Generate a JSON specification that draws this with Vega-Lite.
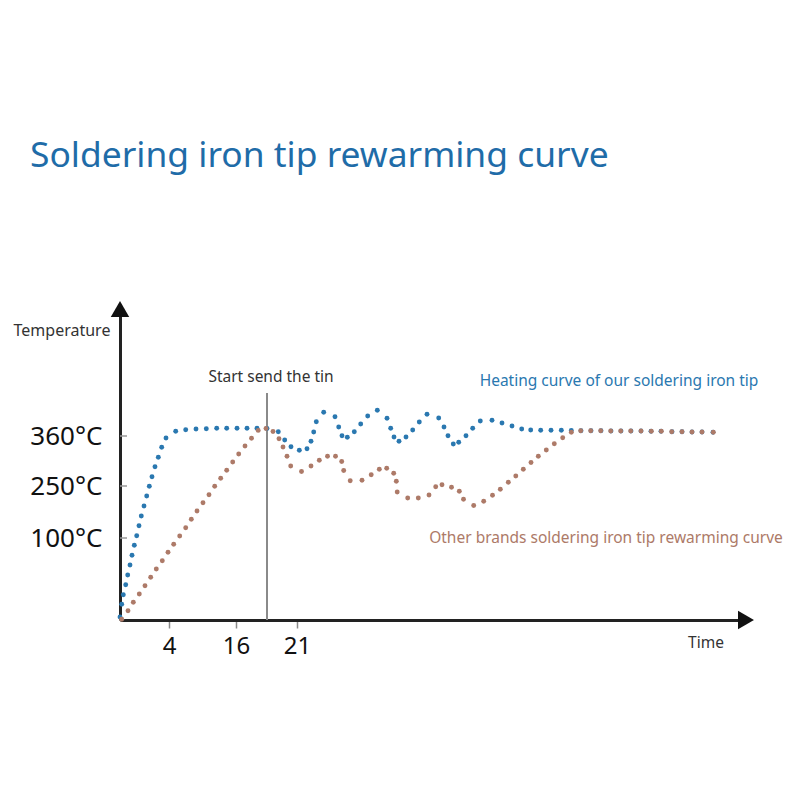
{
  "$schema": "https://vega.github.io/schema/vega-lite/v6.json",
  "width": 620,
  "height": 315,
  "autosize": {"type": "none"},
  "padding": {"left": 120, "top": 305, "right": 60, "bottom": 180},
  "background": "white",
  "config": {"view": {"stroke": null}, "font": "Noto Sans"},
  "title": {
    "text": "Soldering iron tip rewarming curve",
    "anchor": "start",
    "frame": "group",
    "font": "Noto Sans",
    "fontSize": 35.4,
    "fontWeight": "normal",
    "color": "#1f6ca8",
    "baseline": "alphabetic",
    "dx": -90,
    "offset": 99
  },
  "datasets": {
    "ours": [
      {"t": 0, "temp": 3}, {"t": 1.7, "temp": 15.7}, {"t": 3.3, "temp": 25.3}, {"t": 5.7, "temp": 35.3}, {"t": 7.7, "temp": 45}, {"t": 10, "temp": 55}, {"t": 12, "temp": 64.7}, {"t": 14.3, "temp": 74.7}, {"t": 16.7, "temp": 84.3}, {"t": 19, "temp": 94.3}, {"t": 21.3, "temp": 104}, {"t": 24, "temp": 114}, {"t": 26.7, "temp": 124}, {"t": 29.3, "temp": 133.7}, {"t": 32, "temp": 143.3}, {"t": 35, "temp": 153.3}, {"t": 38.3, "temp": 162.7}, {"t": 41.7, "temp": 172.7}, {"t": 46, "temp": 182}, {"t": 55.7, "temp": 188.7}, {"t": 65.7, "temp": 190.3}, {"t": 76, "temp": 191}, {"t": 86.3, "temp": 191.3}, {"t": 96.7, "temp": 191.7}, {"t": 106.7, "temp": 191.7}, {"t": 117, "temp": 191.7}, {"t": 127, "temp": 191.7}, {"t": 137, "temp": 191.7}, {"t": 147, "temp": 191.5}, {"t": 158.3, "temp": 188.3}, {"t": 164.7, "temp": 180}, {"t": 171, "temp": 173.3}, {"t": 179.3, "temp": 169.7}, {"t": 187, "temp": 171.3}, {"t": 191, "temp": 178.7}, {"t": 193.7, "temp": 188}, {"t": 196.3, "temp": 198.3}, {"t": 203.7, "temp": 207.7}, {"t": 215, "temp": 203.3}, {"t": 218.7, "temp": 193}, {"t": 222, "temp": 184.3}, {"t": 227.3, "temp": 182.7}, {"t": 234.3, "temp": 188.3}, {"t": 240.7, "temp": 196}, {"t": 247.7, "temp": 204}, {"t": 257.3, "temp": 209.7}, {"t": 267, "temp": 201.7}, {"t": 270.7, "temp": 191.7}, {"t": 274, "temp": 183}, {"t": 279, "temp": 178.7}, {"t": 286, "temp": 183}, {"t": 292.7, "temp": 190}, {"t": 299.3, "temp": 198}, {"t": 307, "temp": 205.7}, {"t": 318.7, "temp": 202}, {"t": 324, "temp": 193}, {"t": 328, "temp": 184.3}, {"t": 333.3, "temp": 176}, {"t": 338.7, "temp": 177.7}, {"t": 346, "temp": 184.3}, {"t": 352.7, "temp": 191.7}, {"t": 360.3, "temp": 199}, {"t": 372, "temp": 199.7}, {"t": 382, "temp": 197}, {"t": 392, "temp": 194}, {"t": 401.7, "temp": 191}, {"t": 410.7, "temp": 190}, {"t": 420.7, "temp": 189.7}, {"t": 431, "temp": 189.7}, {"t": 441.3, "temp": 189.7}, {"t": 451.3, "temp": 189.5}, {"t": 461, "temp": 189.3}, {"t": 471, "temp": 189.3}, {"t": 481, "temp": 189.2}, {"t": 491, "temp": 189}, {"t": 501, "temp": 189}, {"t": 511, "temp": 189}, {"t": 521, "temp": 189}, {"t": 531, "temp": 188.7}, {"t": 541, "temp": 188.7}, {"t": 552, "temp": 188.3}, {"t": 562, "temp": 188.3}, {"t": 572, "temp": 188}, {"t": 582, "temp": 188}, {"t": 593, "temp": 187.7}
    ],
    "others": [
      {"t": 1.7, "temp": 0.7}, {"t": 8, "temp": 9.3}, {"t": 13.3, "temp": 17.7}, {"t": 19.3, "temp": 26}, {"t": 25, "temp": 34.3}, {"t": 30.7, "temp": 42.7}, {"t": 36.3, "temp": 51}, {"t": 42.3, "temp": 59.3}, {"t": 48, "temp": 67.7}, {"t": 53.7, "temp": 75.7}, {"t": 59.7, "temp": 84}, {"t": 65.7, "temp": 92.3}, {"t": 71.3, "temp": 100.7}, {"t": 77, "temp": 109}, {"t": 83, "temp": 117.3}, {"t": 89, "temp": 125.3}, {"t": 94.7, "temp": 133.7}, {"t": 100.7, "temp": 141.7}, {"t": 106.7, "temp": 149.7}, {"t": 112.7, "temp": 158}, {"t": 118.7, "temp": 166}, {"t": 125, "temp": 174}, {"t": 131.5, "temp": 181.8}, {"t": 138.2, "temp": 189.6}, {"t": 146, "temp": 191.5}, {"t": 153, "temp": 188.5}, {"t": 159, "temp": 181.3}, {"t": 163, "temp": 173}, {"t": 167, "temp": 163.7}, {"t": 170.7, "temp": 154}, {"t": 181.5, "temp": 148.5}, {"t": 191, "temp": 154}, {"t": 199.3, "temp": 159.7}, {"t": 207.5, "temp": 163.8}, {"t": 215.5, "temp": 163.8}, {"t": 221.7, "temp": 158.5}, {"t": 223.7, "temp": 149.5}, {"t": 230.2, "temp": 139.2}, {"t": 242, "temp": 139.7}, {"t": 251.2, "temp": 145.3}, {"t": 259.3, "temp": 150.8}, {"t": 266.7, "temp": 151.7}, {"t": 273.7, "temp": 146.7}, {"t": 276.3, "temp": 138.7}, {"t": 277.2, "temp": 128}, {"t": 287.7, "temp": 122}, {"t": 298.3, "temp": 122}, {"t": 309, "temp": 125}, {"t": 315.7, "temp": 133.3}, {"t": 322, "temp": 135.2}, {"t": 331.5, "temp": 132.8}, {"t": 339.3, "temp": 128.7}, {"t": 343.5, "temp": 120.8}, {"t": 353.7, "temp": 114.5}, {"t": 363.7, "temp": 118.7}, {"t": 372.5, "temp": 124.7}, {"t": 380.3, "temp": 130.8}, {"t": 388.3, "temp": 137.7}, {"t": 395.8, "temp": 144}, {"t": 403.3, "temp": 150.7}, {"t": 411, "temp": 157.5}, {"t": 418.3, "temp": 163.7}, {"t": 426.3, "temp": 170}, {"t": 434.3, "temp": 176.3}, {"t": 442.7, "temp": 182.3}, {"t": 451.3, "temp": 187.7}, {"t": 460.7, "temp": 189.3}, {"t": 470.7, "temp": 189.3}, {"t": 480.7, "temp": 189.3}, {"t": 490.7, "temp": 189}, {"t": 500.7, "temp": 189}, {"t": 510.7, "temp": 189}, {"t": 521, "temp": 189}, {"t": 531.3, "temp": 188.7}, {"t": 541.3, "temp": 188.7}, {"t": 551.7, "temp": 188.3}, {"t": 562, "temp": 188.3}, {"t": 572, "temp": 188}, {"t": 582, "temp": 188}, {"t": 593.3, "temp": 187.7}
    ],
    "yticks": [{"v": 82}, {"v": 134}, {"v": 184}],
    "one": [{}]
  },
  "layer": [
    {
      "data": {"name": "yticks"},
      "mark": {"type": "rule", "color": "#999", "strokeWidth": 1.5},
      "encoding": {
        "y": {
          "field": "v", "type": "quantitative",
          "scale": {"domain": [0, 315], "nice": false, "zero": false},
          "axis": {
            "values": [82, 134, 184],
            "labelExpr": "datum.value == 82 ? '100°C' : datum.value == 134 ? '250°C' : '360°C'",
            "title": null, "grid": false,
            "domainColor": "#222", "domainWidth": 3,
            "ticks": false,
            "labelFont": "Noto Sans", "labelFontSize": 26, "labelColor": "#111", "labelPadding": 18
          }
        },
        "x": {
          "datum": 0, "type": "quantitative",
          "scale": {"domain": [0, 620], "nice": false, "zero": false},
          "axis": {
            "values": [49, 116, 177],
            "labelExpr": "datum.value == 49 ? '4' : datum.value == 116 ? '16' : '21'",
            "title": null, "grid": false,
            "domainColor": "#222", "domainWidth": 3,
            "tickColor": "#8a8a8a", "tickWidth": 1.5, "tickSize": 8,
            "labelFont": "Noto Sans", "labelFontSize": 24, "labelColor": "#111", "labelPadding": 6
          }
        },
        "x2": {"datum": 7}
      }
    },
    {
      "data": {"name": "one"},
      "mark": {"type": "rule", "color": "#8a8a8a", "strokeWidth": 2},
      "encoding": {
        "x": {"datum": 147, "type": "quantitative"},
        "y": {"datum": 0, "type": "quantitative"},
        "y2": {"datum": 227}
      }
    },
    {
      "data": {"name": "ours"},
      "mark": {"type": "point", "filled": true, "size": 24, "opacity": 1, "color": "#2a78b0"},
      "encoding": {
        "x": {"field": "t", "type": "quantitative"},
        "y": {"field": "temp", "type": "quantitative"}
      }
    },
    {
      "data": {"name": "others"},
      "mark": {"type": "point", "filled": true, "size": 24, "opacity": 1, "color": "#ad7a68"},
      "encoding": {
        "x": {"field": "t", "type": "quantitative"},
        "y": {"field": "temp", "type": "quantitative"}
      }
    },
    {
      "data": {"name": "one"},
      "mark": {"type": "point", "shape": "triangle-up", "filled": true, "size": 340, "color": "#111", "opacity": 1},
      "encoding": {"x": {"datum": 0, "type": "quantitative"}, "y": {"datum": 311, "type": "quantitative"}}
    },
    {
      "data": {"name": "one"},
      "mark": {"type": "point", "shape": "triangle-right", "filled": true, "size": 340, "color": "#111", "opacity": 1},
      "encoding": {"x": {"datum": 626, "type": "quantitative"}, "y": {"datum": 0, "type": "quantitative"}}
    },
    {
      "data": {"name": "one"},
      "mark": {"type": "text", "font": "Noto Sans", "fontSize": 15.5, "color": "#333", "align": "center", "baseline": "middle"},
      "encoding": {"x": {"datum": 151, "type": "quantitative"}, "y": {"datum": 243, "type": "quantitative"}, "text": {"value": "Start send the tin"}}
    },
    {
      "data": {"name": "one"},
      "mark": {"type": "text", "font": "Noto Sans", "fontSize": 15.5, "color": "#2a78b0", "align": "center", "baseline": "middle"},
      "encoding": {"x": {"datum": 499, "type": "quantitative"}, "y": {"datum": 239, "type": "quantitative"}, "text": {"value": "Heating curve of our soldering iron tip"}}
    },
    {
      "data": {"name": "one"},
      "mark": {"type": "text", "font": "Noto Sans", "fontSize": 15.5, "color": "#ad7a68", "align": "center", "baseline": "middle"},
      "encoding": {"x": {"datum": 486, "type": "quantitative"}, "y": {"datum": 82, "type": "quantitative"}, "text": {"value": "Other brands soldering iron tip rewarming curve"}}
    },
    {
      "data": {"name": "one"},
      "mark": {"type": "text", "font": "Noto Sans", "fontSize": 16, "color": "#333", "align": "center", "baseline": "middle"},
      "encoding": {"x": {"datum": -58, "type": "quantitative"}, "y": {"datum": 289, "type": "quantitative"}, "text": {"value": "Temperature"}}
    },
    {
      "data": {"name": "one"},
      "mark": {"type": "text", "font": "Noto Sans", "fontSize": 15.5, "color": "#333", "align": "center", "baseline": "middle"},
      "encoding": {"x": {"datum": 586, "type": "quantitative"}, "y": {"datum": -23, "type": "quantitative"}, "text": {"value": "Time"}}
    }
  ]
}
